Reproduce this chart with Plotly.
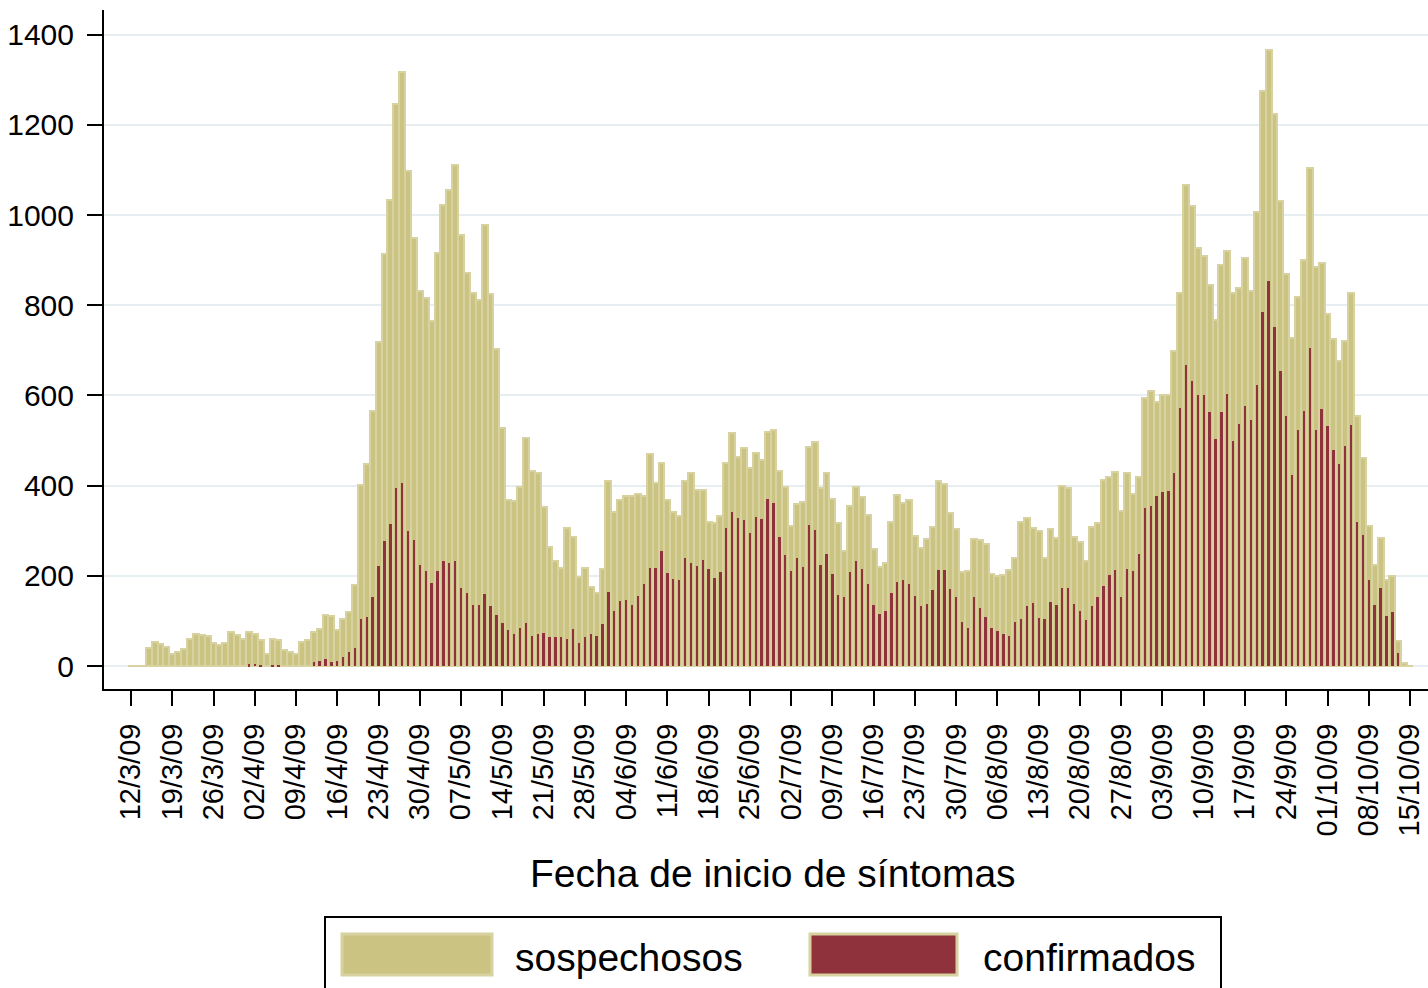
import pandas as pd
import plotly.graph_objects as go

start_date = "2009-03-12"

sospechosos = [
    0, 0, 0, 39, 54, 49, 43, 27, 30, 37,
    59, 72, 68, 67, 50, 47, 52, 75, 69, 60,
    75, 72, 58, 27, 59, 58, 35, 32, 27, 54,
    58, 75, 82, 113, 110, 80, 104, 120, 180, 401,
    449, 566, 718, 913, 1034, 1246, 1318, 1097, 950, 832,
    817, 766, 916, 1023, 1056, 1111, 956, 872, 828, 812,
    979, 824, 704, 527, 368, 365, 398, 505, 433, 429,
    352, 265, 232, 217, 307, 287, 198, 218, 176, 163,
    216, 411, 342, 368, 376, 376, 381, 376, 470, 405,
    450, 368, 341, 333, 410, 427, 390, 390, 320, 317,
    333, 450, 516, 463, 484, 439, 472, 457, 518, 524,
    433, 396, 311, 359, 364, 485, 496, 394, 429, 371,
    318, 255, 355, 396, 374, 335, 260, 219, 229, 320,
    379, 362, 368, 288, 261, 282, 309, 411, 404, 339,
    303, 209, 211, 282, 280, 271, 204, 200, 202, 212,
    239, 320, 328, 307, 300, 239, 303, 283, 399, 394,
    287, 274, 232, 309, 317, 413, 420, 431, 344, 429,
    382, 420, 595, 609, 586, 600, 600, 698, 827, 1066,
    1020, 928, 909, 846, 767, 889, 921, 828, 839, 905,
    831, 1007, 1275, 1367, 1225, 1032, 869, 728, 818, 900,
    1105, 885, 894, 781, 726, 676, 721, 828, 554, 462,
    310, 223, 285, 190, 200, 55, 6, 0,
]

confirmados = [
    0, 0, 0, 0, 0, 0, 0, 0, 0, 0,
    0, 0, 0, 0, 0, 0, 0, 0, 0, 0,
    4, 5, 3, 0, 2, 3, 0, 0, 0, 0,
    0, 8, 12, 15, 8, 12, 21, 30, 40, 104,
    108, 152, 222, 277, 315, 394, 405, 299, 279, 223,
    210, 185, 210, 233, 228, 233, 173, 162, 136, 136,
    159, 133, 113, 95, 80, 70, 84, 95, 67, 70,
    74, 64, 65, 65, 61, 82, 50, 64, 71, 67,
    93, 165, 121, 144, 146, 135, 156, 182, 218, 217,
    254, 206, 193, 191, 239, 228, 222, 235, 215, 195,
    209, 305, 341, 329, 324, 294, 330, 326, 371, 362,
    287, 246, 211, 239, 220, 313, 302, 224, 249, 204,
    158, 152, 209, 233, 215, 183, 135, 115, 123, 163,
    187, 191, 183, 155, 133, 138, 169, 212, 212, 170,
    152, 97, 84, 152, 128, 109, 84, 78, 71, 67,
    97, 104, 133, 139, 107, 104, 141, 135, 174, 172,
    138, 121, 102, 133, 154, 178, 202, 214, 152, 215,
    211, 248, 351, 356, 376, 385, 388, 429, 572, 668,
    632, 601, 601, 563, 503, 563, 604, 498, 537, 577,
    546, 624, 786, 855, 753, 655, 555, 423, 524, 565,
    705, 524, 570, 532, 480, 448, 489, 535, 319, 291,
    190, 135, 174, 112, 120, 29, 0, 0,
]

tick_labels = [
    "12/3/09", "19/3/09", "26/3/09", "02/4/09", "09/4/09", "16/4/09",
    "23/4/09", "30/4/09", "07/5/09", "14/5/09", "21/5/09", "28/5/09",
    "04/6/09", "11/6/09", "18/6/09", "25/6/09", "02/7/09", "09/7/09",
    "16/7/09", "23/7/09", "30/7/09", "06/8/09", "13/8/09", "20/8/09",
    "27/8/09", "03/9/09", "10/9/09", "17/9/09", "24/9/09", "01/10/09",
    "08/10/09", "15/10/09",
]

y_ticks = [0, 200, 400, 600, 800, 1000, 1200, 1400]

series_names = ["sospechosos", "confirmados"]
axis_title = "Fecha de inicio de síntomas"

dates = pd.date_range(start_date, periods=len(sospechosos), freq="D")
tick_dates = pd.date_range(start_date, periods=len(tick_labels), freq="7D")
day_ms = 86400000

KHAKI = "#CBC382"
KHAKI_LINE = "#D8D2A1"
RED = "#8F323C"
FONT = "Liberation Sans, Arial, sans-serif"

fig = go.Figure()
fig.add_trace(go.Bar(
    x=dates, y=sospechosos, name=series_names[0],
    width=day_ms * 1.0,
    marker=dict(color=KHAKI, line=dict(color=KHAKI_LINE, width=2)),
    showlegend=False,
))
fig.add_trace(go.Bar(
    x=dates, y=confirmados, name=series_names[1],
    width=day_ms * 0.4,
    marker=dict(color=RED, line=dict(width=0)),
    showlegend=False,
))

# layout geometry (pixels)
W_FIG, H_FIG = 1428, 988
L, R, T, B = 104, 1428, 10, 689
PW, PH = R - L, B - T

def px(x):
    return (x - L) / PW

def py(y):
    return (B - y) / PH

x0 = pd.Timestamp(start_date) - pd.Timedelta(days=4.58)
x1 = pd.Timestamp(start_date) + pd.Timedelta(days=220.05)

fig.update_layout(
    width=W_FIG, height=H_FIG,
    margin=dict(l=L, r=W_FIG - R, t=T, b=H_FIG - B, pad=0),
    barmode="overlay", bargap=0,
    plot_bgcolor="white", paper_bgcolor="white",
    font=dict(family=FONT, color="black"),
    showlegend=False,
    xaxis=dict(
        type="date", range=[x0, x1],
        tickmode="array", tickvals=tick_dates, ticktext=tick_labels,
        tickangle=-90, tickfont=dict(size=29, family=FONT),
        ticks="outside", ticklen=15, tickwidth=2, tickcolor="black",
        showline=True, linecolor="black", linewidth=2,
        showgrid=False, zeroline=False, ticklabelstandoff=6,
    ),
    yaxis=dict(
        range=[-51, 1455],
        tickmode="array", tickvals=y_ticks,
        tickfont=dict(size=30, family=FONT),
        ticks="outside", ticklen=15, tickwidth=2, tickcolor="black",
        showline=True, linecolor="black", linewidth=2,
        showgrid=True, gridcolor="#E6EEF2", gridwidth=2,
        zeroline=False, ticklabelstandoff=7,
    ),
)

# axis title
fig.add_annotation(
    x=px(773), y=py(873), xref="paper", yref="paper",
    text=axis_title, showarrow=False,
    font=dict(size=39, family=FONT, color="black"),
    xanchor="center", yanchor="middle",
)

# legend drawn manually
fig.add_shape(type="rect", xref="paper", yref="paper",
              x0=px(325), x1=px(1221), y0=py(1000), y1=py(917),
              line=dict(color="black", width=2), fillcolor="white", layer="above")
fig.add_shape(type="rect", xref="paper", yref="paper",
              x0=px(342), x1=px(492), y0=py(975), y1=py(934),
              line=dict(color=KHAKI_LINE, width=3), fillcolor=KHAKI, layer="above")
fig.add_shape(type="rect", xref="paper", yref="paper",
              x0=px(810), x1=px(957), y0=py(975), y1=py(934),
              line=dict(color=KHAKI_LINE, width=3), fillcolor=RED, layer="above")
fig.add_annotation(x=px(513), y=py(957), xref="paper", yref="paper",
                   text=series_names[0], showarrow=False,
                   font=dict(size=39, family=FONT, color="black"),
                   xanchor="left", yanchor="middle")
fig.add_annotation(x=px(981), y=py(957), xref="paper", yref="paper",
                   text=series_names[1], showarrow=False,
                   font=dict(size=39, family=FONT, color="black"),
                   xanchor="left", yanchor="middle")

fig.write_html("out.html", config={"displayModeBar": False},
               post_script="document.body.style.margin='0';")
